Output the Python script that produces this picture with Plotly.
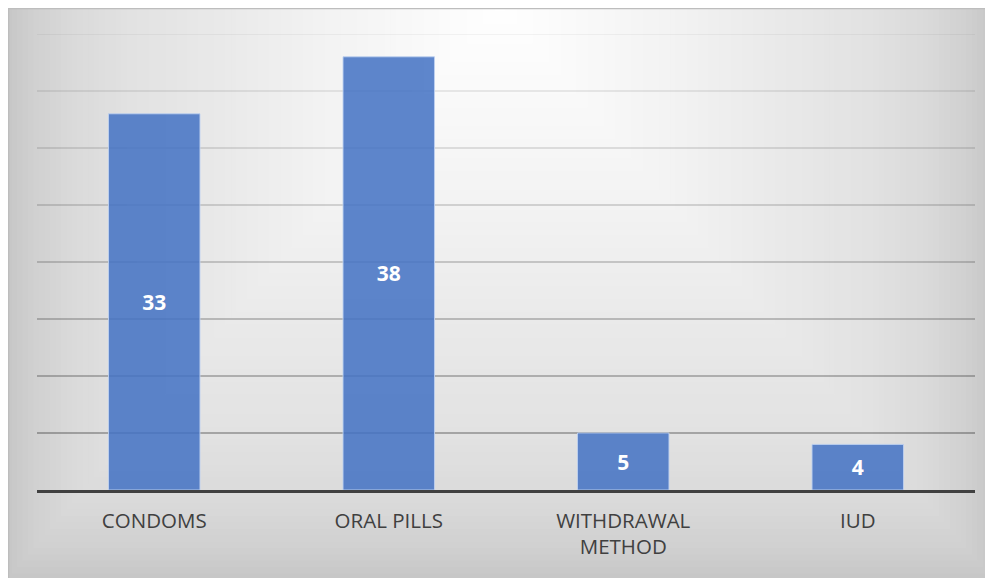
import plotly.graph_objects as go
import numpy as np

categories = ["CONDOMS", "ORAL PILLS", "WITHDRAWAL<br>METHOD", "IUD"]
values = [33, 38, 5, 4]
y_ticks = [0, 5, 10, 15, 20, 25, 30, 35, 40]

# page body has an 8px margin, so the figure is sized to fit the window
W, H = 985, 570
ML, MR, MT, MB = 29, 18, 26, 88
PW, PH = W - ML - MR, H - MT - MB


def px_x(p):
    return (p - ML) / PW


def px_y(p):
    return (H - MB - p) / PH


shapes = []
# rectangular "from top center" gradient background of the chart area
stops_t = [0.0, 0.4, 0.55, 0.75, 0.87, 0.95, 1.0]
stops_v = [255, 241, 234, 226, 218, 208, 199]
cx, top, hw, hh = 492, -3, 494, 575
N = 90
for k in range(N, 0, -1):
    t = k / N
    v = int(round(np.interp(t, stops_t, stops_v)))
    shapes.append(dict(
        type="rect", xref="paper", yref="paper", layer="below",
        x0=px_x(cx - t * hw), x1=px_x(cx + t * hw),
        y0=px_y(top), y1=px_y(top + t * hh),
        fillcolor=f"rgb({v},{v},{v})", line=dict(width=0),
    ))
# chart area border
shapes.append(dict(
    type="rect", xref="paper", yref="paper", layer="below",
    x0=px_x(0.5), x1=px_x(1000), y0=px_y(0.5), y1=px_y(590),
    fillcolor="rgba(0,0,0,0)", line=dict(color="#bdbdbd", width=1.5),
))
# gridlines with fading opacity towards the top
ymax = max(y_ticks)
for tv in y_ticks[1:]:
    a = 0.37 - (tv - 5) / (ymax - 5) * 0.31
    shapes.append(dict(
        type="line", xref="paper", yref="y", layer="below",
        x0=0, x1=1, y0=tv, y1=tv,
        line=dict(color=f"rgba(0,0,0,{a:.3f})", width=1.3),
    ))

fig = go.Figure()
fig.add_trace(go.Bar(
    x=categories, y=values,
    marker=dict(color="rgba(68,114,196,0.86)",
                line=dict(color="rgba(190,208,240,0.9)", width=1)),
    width=0.39,
    text=[str(v) for v in values],
    textposition="inside", insidetextanchor="middle",
    textfont=dict(family="Open Sans", size=21, color="white", weight="bold"),
    textangle=0,
    cliponaxis=False,
))

fig.update_layout(
    width=W, height=H,
    margin=dict(l=ML, r=MR, t=MT, b=MB),
    paper_bgcolor="white",
    plot_bgcolor="rgba(0,0,0,0)",
    shapes=shapes,
    showlegend=False,
    uniformtext=dict(minsize=8, mode="show"),
)
fig.update_xaxes(
    showgrid=False, showline=True, linecolor="#404040", linewidth=3,
    ticks="outside", ticklen=10, tickcolor="rgba(0,0,0,0)",
    tickfont=dict(family="Open Sans", size=20.5, color="#404040"),
    zeroline=False,
)
fig.update_yaxes(
    range=[0, ymax], tickvals=y_ticks, showticklabels=False,
    showgrid=False, zeroline=False, showline=False,
)

fig.write_html("out.html")
